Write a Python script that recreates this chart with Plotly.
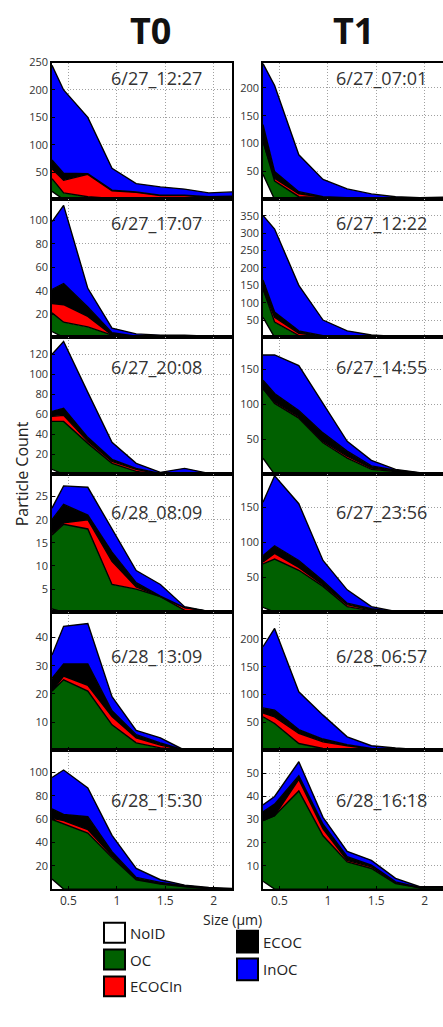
import plotly.graph_objects as go

W, H = 443, 1027

# Size bin centres (µm)
size = [0.33, 0.45, 0.7, 0.95, 1.2, 1.45, 1.7, 1.95, 2.2]

series_names = ["NoID", "OC", "ECOCIn", "ECOC", "InOC"]
series_colors = ["#ffffff", "#006000", "#ff0000", "#000000", "#0000ff"]

# ---------- T0 column ----------
t0_labels = ["6/27_12:27", "6/27_17:07", "6/27_20:08", "6/28_08:09", "6/28_13:09", "6/28_15:30"]
t0_noid = [
    [15, 0, 0, 0, 0, 0, 0, 0, 0],
    [5, 0, 0, 0, 0, 0, 0, 0, 0],
    [5, 0, 0, 0, 0, 0, 0, 0, 0],
    [0.7, 0, 0, 0, 0, 0, 0, 0, 0],
    [0, 0, 0, 0, 0, 0, 0, 0, 0],
    [8.6, 0, 0, 0, 0, 0, 0, 0, 0],
]
t0_oc = [
    [23, 12, 5, 2, 1, 0, 0, 0, 0],
    [16, 13, 9, 2, 0.5, 0, 0, 0, 0],
    [48, 53, 31, 11, 3, 0, 0, 0, 0],
    [16, 19, 18, 6, 5, 3.4, 0.4, 0, 0],
    [21, 25, 21, 9, 2.6, 0.8, 0, 0, 0],
    [51, 56, 48, 27, 8, 4.3, 2, 0.5, 0],
]
t0_ecocin = [
    [18, 23, 41, 14, 12, 7, 7, 4, 5],
    [8, 15, 9, 0, 0, 0, 0, 0, 0],
    [5, 6, 2, 2, 2, 0, 0, 0, 0],
    [0.3, 0.3, 2, 5, 0.5, 0, 0.6, 0.2, 0],
    [0, 1.3, 2, 3, 1.8, 1, 0, 0, 0],
    [1, 2.6, 3, 1.6, 0.6, 0.5, 0.3, 0, 0],
]
t0_ecoc = [
    [16, 13, 1, 1, 1, 1, 1, 1, 1],
    [12, 18, 8, 2, 0.5, 0.5, 0, 0, 0],
    [5, 7, 4, 2, 1, 1, 1, 0, 0],
    [3, 4, 1, 2, 0.9, 0.1, 0, 0, 0],
    [4.5, 4.3, 7.6, 2, 1.1, 0.8, 0, 0, 0],
    [8, 5.4, 11, 3.4, 1.4, 0.9, 0.5, 0.3, 0],
]
t0_inoc = [
    [173, 152, 103, 40, 15, 15, 11, 7, 8],
    [58, 67, 16, 4, 2, 1.5, 2, 1, 1],
    [57, 67, 45, 17, 5, 1, 5, 1, 0.5],
    [2.5, 4, 6, 5, 2.6, 2.5, 0.2, 0, 0],
    [8.3, 13.4, 14.4, 5, 1.5, 1.8, 0, 0, 0],
    [27, 38, 24.6, 14, 7.7, 2.3, 0.6, 0.6, 0.5],
]
t0_ymax = [250, 118, 137, 29.8, 49, 119]
t0_yticks = [
    [50, 100, 150, 200, 250],
    [20, 40, 60, 80, 100],
    [20, 40, 60, 80, 100, 120],
    [5, 10, 15, 20, 25],
    [10, 20, 30, 40],
    [20, 40, 60, 80, 100],
]

# ---------- T1 column ----------
t1_labels = ["6/27_07:01", "6/27_12:22", "6/27_14:55", "6/27_23:56", "6/28_06:57", "6/28_16:18"]
t1_noid = [
    [45, 0, 0, 0, 0, 0, 0, 0, 0],
    [58, 0, 0, 0, 0, 0, 0, 0, 0],
    [23, 0, 0, 0, 0, 0, 0, 0, 0],
    [7, 0, 0, 0, 0, 0, 0, 0, 0],
    [0, 0, 0, 0, 0, 0, 0, 0, 0],
    [3.4, 0, 0, 0, 0, 0, 0, 0, 0],
]
t1_oc = [
    [59, 33, 5, 3, 1, 0, 0, 0, 0],
    [82, 44, 5, 2, 0, 0, 0, 0, 0],
    [99, 101, 80, 45, 23, 7, 4, 1, 0],
    [62, 76, 60, 37, 8, 2, 0, 0, 0],
    [60, 48, 12, 3, 2, 0, 0, 0, 0],
    [26.2, 31.7, 42.4, 23, 11.7, 8.9, 2.4, 0.5, 0.5],
]
t1_ecocin = [
    [0, 5, 5, 1, 1, 0, 0, 0, 0],
    [0, 14, 7, 1, 0, 0, 0, 0, 0],
    [0, 2, 2, 2, 3, 2, 1, 0, 0],
    [3, 8, 4, 2, 3, 1, 0, 0, 0],
    [7, 12, 18, 12, 6, 2, 0, 0, 0],
    [0, 0, 5, 3, 0.7, 0.7, 0.3, 0, 0],
]
t1_ecoc = [
    [30, 12, 4, 1, 1, 2, 1, 0, 0],
    [25, 15, 7, 2, 2, 0, 0, 0, 0],
    [12, 12, 9, 12, 7, 3, 1, 1, 0.5],
    [9, 11, 10, 6, 2, 2, 0.5, 0, 0],
    [9, 12, 7, 5, 2, 1, 1, 0, 0],
    [3.8, 5, 1.6, 2, 1.6, 0.7, 0.4, 0.2, 0.2],
]
t1_inoc = [
    [109, 154, 66, 31, 16, 8, 4, 3, 4],
    [186, 239, 131, 45, 17, 7, 3, 2, 2],
    [36, 55, 64, 42, 14, 8, 1, 0.5, 0.5],
    [76, 100, 81, 29, 19, 3, 0.5, 0.5, 0],
    [110, 147, 68, 43, 14, 5, 3, 1, 0.5],
    [3, 3.3, 6, 3, 2.3, 2.1, 1.5, 0.3, 0.3],
]
t1_ymax = [245, 397, 195, 197, 248, 60]
t1_yticks = [
    [50, 100, 150, 200],
    [50, 100, 150, 200, 250, 300, 350],
    [50, 100, 150],
    [50, 100, 150],
    [50, 100, 150, 200],
    [10, 20, 30, 40, 50],
]

xticks = [0.5, 1, 1.5, 2]
xticklabels = ["0.5", "1", "1.5", "2"]

# ---------- layout geometry (pixels) ----------
row_edges = [55, 193, 332, 470, 609, 748, 888]
label_y = [71, 217, 362, 508, 653, 798]
col_x = [(52, 232), (263, 443)]
label_x = [156, 381]


def px(x):
    return x / W


def py(y):
    return 1 - y / H


fig = go.Figure()
layout = dict(
    width=W, height=H, autosize=False,
    margin=dict(l=0, r=0, t=0, b=0),
    paper_bgcolor="white", plot_bgcolor="white",
    showlegend=False,
    font=dict(family="Open Sans, Liberation Sans, sans-serif", color="#333333"),
)
annotations = []
shapes = []

columns = [
    (t0_labels, [t0_noid, t0_oc, t0_ecocin, t0_ecoc, t0_inoc], t0_ymax, t0_yticks),
    (t1_labels, [t1_noid, t1_oc, t1_ecocin, t1_ecoc, t1_inoc], t1_ymax, t1_yticks),
]

idx = 0
for c, (labels, data, ymaxs, yticks) in enumerate(columns):
    for r in range(6):
        idx += 1
        xa = "x" if idx == 1 else f"x{idx}"
        ya = "y" if idx == 1 else f"y{idx}"
        for s in range(5):
            fig.add_trace(go.Scatter(
                x=size, y=data[s][r], mode="lines",
                stackgroup=f"g{idx}", fillcolor=series_colors[s],
                line=dict(color="black", width=1.4),
                name=series_names[s], xaxis=xa, yaxis=ya,
                hoverinfo="skip",
            ))
        xdom = [px(col_x[c][0]), px(col_x[c][1])]
        ydom = [py(row_edges[r + 1]), py(row_edges[r])]
        layout["xaxis" if idx == 1 else f"xaxis{idx}"] = dict(
            domain=xdom, anchor=ya, range=[0.33, 2.19],
            tickvals=xticks, ticktext=xticklabels,
            showticklabels=(r == 5),
            tickfont=dict(size=12, color="#333333"),
            showgrid=True, gridcolor="#a0a0a0", griddash="1px,2px", gridwidth=1,
            showline=True, linecolor="black", linewidth=1.5, mirror=True,
            ticks="inside", ticklen=3, tickcolor="black",
            zeroline=False, fixedrange=True,
        )
        layout["yaxis" if idx == 1 else f"yaxis{idx}"] = dict(
            domain=ydom, anchor=xa, range=[0, ymaxs[r]],
            tickvals=yticks[r],
            tickfont=dict(size=11, color="#333333"),
            showgrid=True, gridcolor="#a0a0a0", griddash="1px,2px", gridwidth=1,
            showline=True, linecolor="black", linewidth=1.5, mirror=(c == 0),
            ticks="inside", ticklen=3, tickcolor="black",
            zeroline=False, fixedrange=True,
        )
        annotations.append(dict(
            x=px(label_x[c]), y=py(label_y[r]), xref="paper", yref="paper",
            text=labels[r], showarrow=False, xanchor="center", yanchor="middle",
            font=dict(size=18, color="#333333"),
        ))

# column titles
for t, xc in zip(["T0", "T1"], [150, 353]):
    annotations.append(dict(
        x=px(xc), y=py(23), xref="paper", yref="paper", text=f"<b>{t}</b>",
        showarrow=False, xanchor="center", yanchor="middle",
        font=dict(size=36, color="#111111"),
    ))

# axis titles
annotations.append(dict(
    x=px(22), y=py(470), xref="paper", yref="paper", text="Particle Count",
    showarrow=False, textangle=-90, xanchor="center", yanchor="middle",
    font=dict(size=16, color="#222222"),
))
annotations.append(dict(
    x=px(232), y=py(919), xref="paper", yref="paper", text="Size (µm)",
    showarrow=False, xanchor="center", yanchor="middle",
    font=dict(size=14, color="#222222"),
))

# legend (boxes + labels)
legend_pos = [  # (x0, y0, x1, y1) pixel boxes
    (104, 922, 125, 942),
    (104, 949, 125, 969),
    (104, 976, 125, 996),
    (237, 930, 258, 952),
    (237, 958, 258, 980),
]
for (x0, y0, x1, y1), name, col in zip(legend_pos, series_names, series_colors):
    shapes.append(dict(
        type="rect", xref="paper", yref="paper",
        x0=px(x0), x1=px(x1), y0=py(y1), y1=py(y0),
        fillcolor=col, line=dict(color="black", width=2),
    ))
    annotations.append(dict(
        x=px(x1 + 3), y=py((y0 + y1) / 2), xref="paper", yref="paper",
        text=name, showarrow=False, xanchor="left", yanchor="middle",
        font=dict(size=15, color="#222222"),
    ))

layout["annotations"] = annotations
layout["shapes"] = shapes
fig.update_layout(**layout)
fig.write_html(
    "out.html",
    config={"displayModeBar": False},
    post_script="document.body.style.margin='0';document.body.style.overflow='hidden';",
)
